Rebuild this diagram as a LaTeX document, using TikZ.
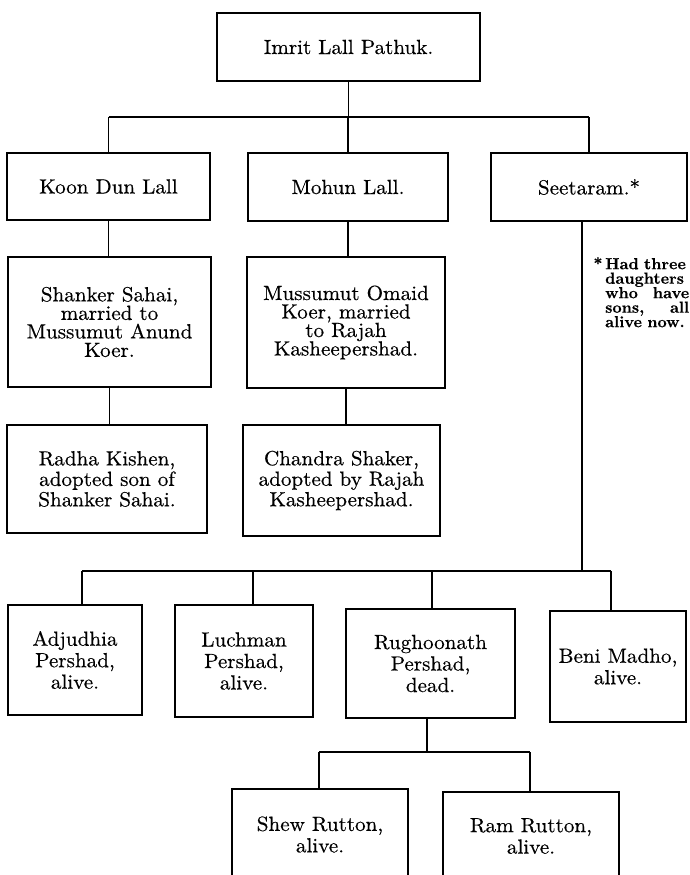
\documentclass[tikz,border=0pt]{standalone}
\usepackage{fontspec}
\setmainfont{lmroman10-regular.otf}[FakeStretch=1.03, FakeBold=0.4, BoldFont=lmroman10-bold.otf, BoldFeatures={FakeStretch=1.0}]
\begin{document}
\begin{tikzpicture}[x=1pt,y=-1pt,
  box/.style={draw, line width=1.3pt, inner sep=0pt, align=center,
    font=\fontsize{20.5}{20.5}\selectfont},
  tight/.style={font=\fontsize{20.5}{18.5}\selectfont},
  wide/.style={font=\fontsize{20.5}{21.5}\selectfont},
  link/.style={line width=1.3pt},
  foot/.style={inner sep=0pt, text width=84pt, align=left,
    font=\fontsize{16}{14.5}\selectfont\bfseries}]
\clip (0,0) rectangle (690,875);
\fill[white] (0,0) rectangle (690,875);
% nodes
\node[box, minimum width=263, minimum height=68] (top) at (348.5,47) {Imrit Lall Pathuk.};
\node[box, minimum width=203, minimum height=67] (koon) at (108.5,186.5) {Koon Dun Lall};
\node[box, minimum width=200, minimum height=68] (mohun) at (348,187) {Mohun Lall.};
\node[box, minimum width=196, minimum height=68] (seeta) at (589,187) {Seetaram.*};
\node[box, tight, minimum width=203, minimum height=130] (shanker) at (109.5,322) {Shanker Sahai,\\married to\\Mussumut Anund\\Koer.};
\node[box, tight, minimum width=198, minimum height=131] (omaid) at (346,322.5) {Mussumut Omaid\\Koer, married\\to Rajah\\Kasheepershad.};
\node[box, minimum width=200, minimum height=108] (radha) at (107,479) {Radha Kishen,\\adopted son of\\Shanker Sahai.};
\node[box, minimum width=197, minimum height=111] (chandra) at (341.5,480.5) {Chandra Shaker,\\adopted by Rajah\\Kasheepershad.};
\node[box, wide, minimum width=134, minimum height=110] (adj) at (75,660) {Adjudhia\\Pershad,\\alive.};
\node[box, wide, minimum width=138, minimum height=112] (luch) at (244,661) {Luchman\\Pershad,\\alive.};
\node[box, wide, minimum width=169, minimum height=109] (rugh) at (430.5,663.5) {Rughoonath\\Pershad,\\dead.};
\node[box, wide, minimum width=136, minimum height=111] (beni) at (618,666.5) {Beni Madho,\\alive.};
\node[box, wide, minimum width=176, minimum height=91] (shew) at (320,834.5) {Shew Rutton,\\alive.};
\node[box, wide, minimum width=176, minimum height=88] (ram) at (531,836) {Ram Rutton,\\alive.};
\node[foot, anchor=north west] (note) at (605,257) {\llap{*\,}Had three\\daughters\\who\hfill have\\sons,\hfill all\\alive now.};
% junction coordinates
\coordinate (j1) at (348,117);
\coordinate (s1) at (582,571);
\coordinate (b1) at (82,571);
\coordinate (b2) at (253,571);
\coordinate (b3) at (432,571);
\coordinate (b4) at (611,571);
\coordinate (r0) at (427,752);
\coordinate (r1) at (319,752);
\coordinate (r2) at (530,752);
% connectors
\draw[link] (top.south) -- (top.south |- j1);
\draw[link] (koon.north |- j1) -- (seeta.north |- j1);
\draw[link] (koon.north |- j1) -- (koon.north);
\draw[link] (mohun.north |- j1) -- (mohun.north);
\draw[link] (seeta.north |- j1) -- (seeta.north);
\draw[link] (koon.south) -- (koon.south |- shanker.north);
\draw[link] (shanker.south) -- (shanker.south |- radha.north);
\draw[link] (mohun.south) -- (mohun.south |- omaid.north);
\draw[link] (omaid.south) -- (omaid.south |- chandra.north);
\draw[link] (s1 |- seeta.south) -- (s1);
\draw[link] (b1) -- (b4);
\draw[link] (b1) -- (b1 |- adj.north);
\draw[link] (b2) -- (b2 |- luch.north);
\draw[link] (b3) -- (b3 |- rugh.north);
\draw[link] (b4) -- (b4 |- beni.north);
\draw[link] (r0 |- rugh.south) -- (r0);
\draw[link] (r1) -- (r2);
\draw[link] (r1) -- (r1 |- shew.north);
\draw[link] (r2) -- (r2 |- ram.north);
\end{tikzpicture}
\end{document}
